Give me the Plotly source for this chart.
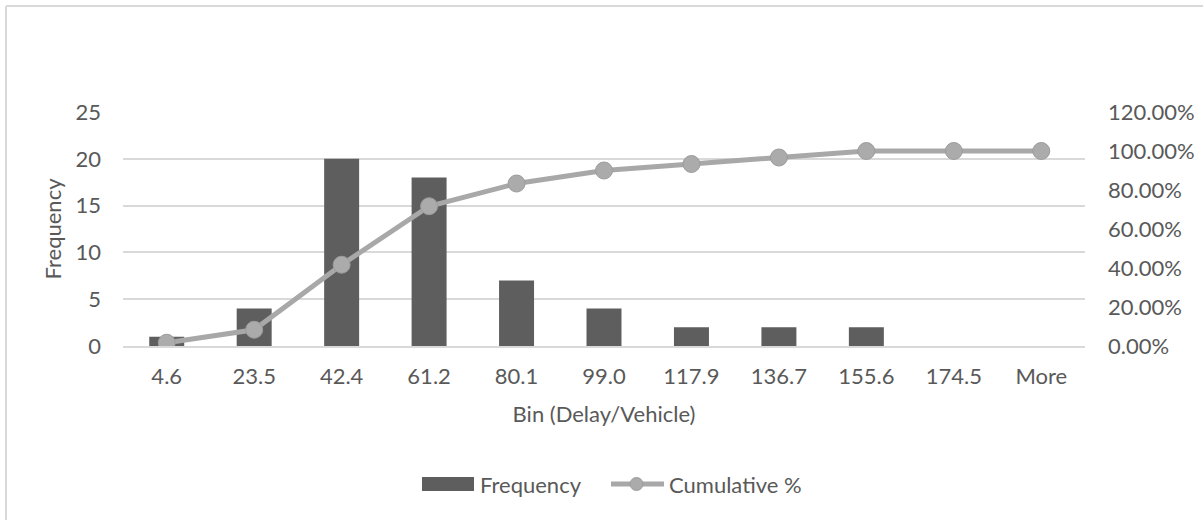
import plotly.graph_objects as go

bins = ["4.6", "23.5", "42.4", "61.2", "80.1", "99.0", "117.9", "136.7", "155.6", "174.5", "More"]
frequency = [1, 4, 20, 18, 7, 4, 2, 2, 2, 0, 0]
cumulative_pct = [0.0167, 0.0833, 0.4167, 0.7167, 0.8333, 0.90, 0.9333, 0.9667, 1.0, 1.0, 1.0]

FONT = "Lato"
FS = 22
TXT = "#595959"
GRID = "#d9d9d9"
BAR_C = "#5e5e5e"
LINE_C = "#a8a8a8"
MARK_C = "#ababab"

W, H = 1203, 520
L, R, T, B = 123, 118, 112, 174
pw, ph = W - L - R, H - T - B

def px_x(p):
    return (p - L) / pw

def px_y(p):
    return 1 - (p - T) / ph

fig = go.Figure()
fig.add_trace(go.Bar(
    x=bins, y=frequency, name="Frequency",
    marker=dict(color=BAR_C, line=dict(width=0)),
    yaxis="y", showlegend=False,
))
fig.add_trace(go.Scatter(
    x=bins, y=cumulative_pct, name="Cumulative %",
    mode="lines+markers",
    line=dict(color=LINE_C, width=5),
    marker=dict(size=17, color=MARK_C, line=dict(color="#9c9c9c", width=1)),
    yaxis="y2", showlegend=False,
))

# manual legend (Excel style)
leg_y = px_y(484)
shapes = [
    dict(type="line", xref="paper", yref="paper",
         x0=px_x(6), x1=px_x(1260), y0=px_y(6), y1=px_y(6),
         line=dict(color=GRID, width=2)),
    dict(type="line", xref="paper", yref="paper",
         x0=px_x(6), x1=px_x(6), y0=px_y(6), y1=px_y(560),
         line=dict(color=GRID, width=2)),
    dict(type="rect", xref="paper", yref="paper",
         x0=px_x(422), x1=px_x(474), y0=px_y(491), y1=px_y(477),
         line=dict(width=0), fillcolor=BAR_C),
    dict(type="line", xref="paper", yref="paper",
         x0=px_x(611), x1=px_x(664), y0=leg_y, y1=leg_y,
         line=dict(color=LINE_C, width=5)),
    dict(type="circle", xref="paper", yref="paper",
         x0=px_x(630), x1=px_x(643), y0=px_y(477.5), y1=px_y(490.5),
         line=dict(color="#9c9c9c", width=1), fillcolor=MARK_C),
]
annotations = [
    dict(text="Frequency", xref="paper", yref="paper", x=px_x(478), y=leg_y,
         xanchor="left", yanchor="middle", showarrow=False,
         font=dict(family=FONT, size=FS, color=TXT)),
    dict(text="Cumulative %", xref="paper", yref="paper", x=px_x(667), y=leg_y,
         xanchor="left", yanchor="middle", showarrow=False,
         font=dict(family=FONT, size=FS, color=TXT)),
]

fig.update_layout(
    width=W, height=H,
    margin=dict(l=L, r=R, t=T, b=B, pad=0, autoexpand=False),
    paper_bgcolor="white", plot_bgcolor="white",
    font=dict(family=FONT, size=FS, color=TXT),
    bargap=0.6,
    showlegend=False,
    xaxis=dict(
        automargin=False, range=[-0.5, len(bins) - 0.5],
        showgrid=False, showline=True, linecolor=GRID, linewidth=1.5,
        ticks="", ticklabelstandoff=10,
        tickfont=dict(family=FONT, size=FS, color=TXT),
        title=dict(text="Bin (Delay/Vehicle)", standoff=18,
                   font=dict(family=FONT, size=FS, color=TXT)),
    ),
    yaxis=dict(
        automargin=False,
        range=[0, 25], dtick=5, showgrid=True, gridcolor=GRID, gridwidth=1.5,
        zeroline=False, showline=False, ticks="", ticklabelstandoff=21,
        tickfont=dict(family=FONT, size=FS, color=TXT),
        title=dict(text="Frequency", standoff=7,
                   font=dict(family=FONT, size=FS, color=TXT)),
    ),
    yaxis2=dict(
        automargin=False,
        range=[0, 1.2], dtick=0.2, tickformat=".2%", overlaying="y", side="right",
        showgrid=False, zeroline=False, showline=False, ticks="", ticklabelstandoff=22,
        tickfont=dict(family=FONT, size=FS, color=TXT),
    ),
    shapes=shapes,
    annotations=annotations,
)

fig.write_html(
    "out.html",
    config={"displayModeBar": False},
    post_script="document.body.style.margin='0';document.body.style.padding='0';document.body.style.overflow='hidden';",
)
